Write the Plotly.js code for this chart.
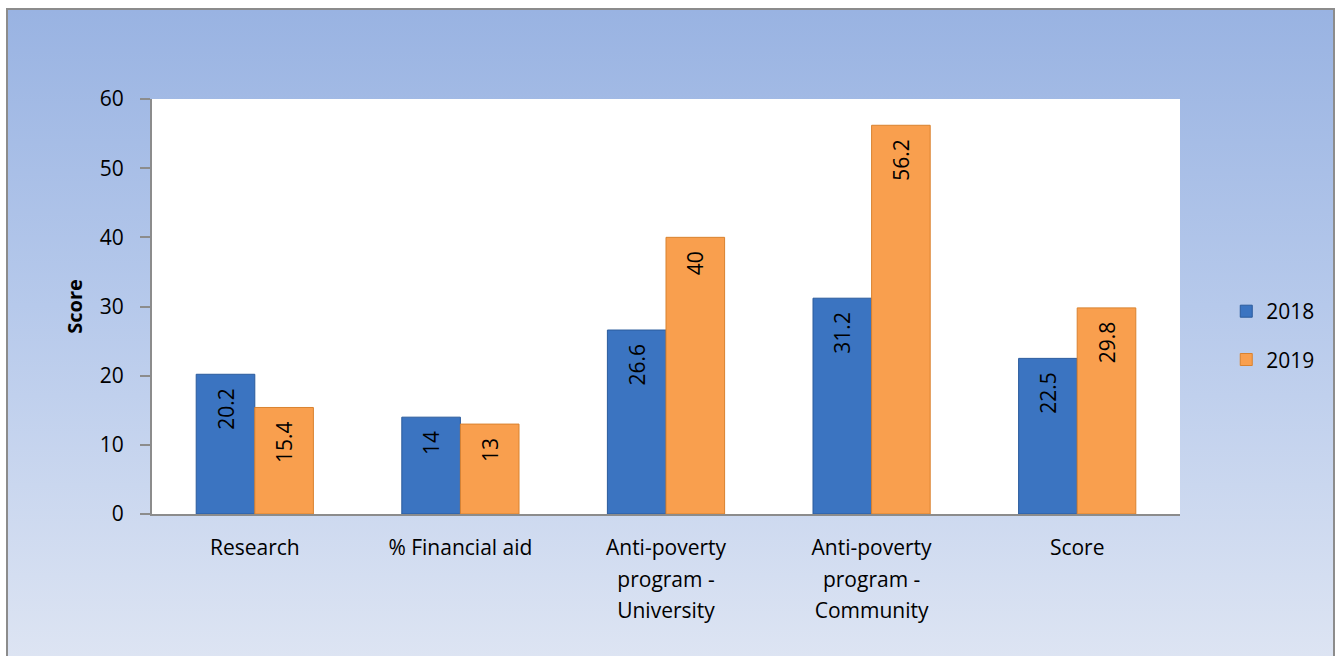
<!DOCTYPE html>
<html>
<head>
<meta charset="utf-8">
<script src="https://cdn.plot.ly/plotly-3.0.1.min.js"></script>
<style>
  html, body { margin: 0; padding: 0; width: 1339px; height: 656px; overflow: hidden; background: #ffffff; }
  #bg { position: absolute; left: 6px; top: 8px; width: 1329px; height: 660px;
        border: 2px solid #8c8c8c; box-sizing: border-box;
        background: linear-gradient(to bottom, #99b3e2 0%, #b6c9eb 45%, #dee5f3 100%); }
  #chart { position: absolute; left: 0; top: 0; width: 1339px; height: 656px; }
</style>
</head>
<body>
<div id="bg"></div>
<div id="chart"></div>
<script>
const categories = [
  "Research",
  "% Financial aid",
  "Anti-poverty<br>program -<br>University",
  "Anti-poverty<br>program -<br>Community",
  "Score"
];
const values2018 = [20.2, 14, 26.6, 31.2, 22.5];
const values2019 = [15.4, 13, 40, 56.2, 29.8];
const seriesNames = ["2018", "2019"];
const yTicks = [0, 10, 20, 30, 40, 50, 60];

const fontFamily = "'Open Sans', Lato, sans-serif";

function barTrace(name, vals, color, lineColor, group) {
  return {
    type: "bar",
    name: name,
    x: categories,
    y: vals,
    legendgroup: group,
    marker: { color: color, line: { color: lineColor, width: 1 } },
    text: vals.map(v => String(v) + "\u00a0\u00a0"),
    textposition: "inside",
    insidetextanchor: "end",
    textangle: -90,
    textfont: { family: fontFamily, size: 21, color: "#000000" },
    cliponaxis: false,
    hoverinfo: "x+y+name"
  };
}

const data = [
  barTrace(seriesNames[0], values2018, "#3b74c1", "#2b5b9c", "a"),
  barTrace(seriesNames[1], values2019, "#f99f4e", "#d9822f", "b")
];

const layout = {
  width: 1339,
  height: 656,
  paper_bgcolor: "rgba(0,0,0,0)",
  plot_bgcolor: "#ffffff",
  margin: { l: 152, r: 159, t: 99, b: 142 },
  barmode: "group",
  bargap: 0.43,
  bargroupgap: 0,
  font: { family: fontFamily, size: 20, color: "#000000" },
  xaxis: {
    type: "category",
    showline: true,
    linecolor: "#8c8c8c",
    linewidth: 2,
    showgrid: false,
    ticks: "",
    tickfont: { family: fontFamily, size: 21, color: "#000000" },
    ticklabelstandoff: 14,
    zeroline: false
  },
  yaxis: {
    range: [0, 60],
    tickvals: yTicks,
    ticktext: yTicks.map(String),
    showline: true,
    linecolor: "#8c8c8c",
    linewidth: 2,
    ticks: "outside",
    ticklen: 10,
    tickwidth: 2,
    tickcolor: "#8c8c8c",
    showgrid: false,
    zeroline: false,
    ticklabelstandoff: 12,
    tickfont: { family: fontFamily, size: 21, color: "#000000" },
    title: { text: "<b>Score</b>", font: { family: fontFamily, size: 20, color: "#000000" }, standoff: 12 }
  },
  legend: {
    x: 1.045,
    xanchor: "left",
    y: 0.43,
    yanchor: "middle",
    bgcolor: "rgba(0,0,0,0)",
    font: { family: fontFamily, size: 21, color: "#000000" },
    traceorder: "grouped",
    tracegroupgap: 18
  },
  showlegend: true
};

Plotly.newPlot("chart", data, layout, { displayModeBar: false, staticPlot: true }).then(function () {
  document.querySelectorAll("#chart .xtick text tspan.line").forEach(function (t) {
    const dy = t.getAttribute("dy");
    if (dy && /em$/.test(dy)) {
      const v = parseFloat(dy);
      if (v > 0) t.setAttribute("dy", (v / 1.3 * 1.5).toFixed(2) + "em");
    }
  });
});
</script>
</body>
</html>
